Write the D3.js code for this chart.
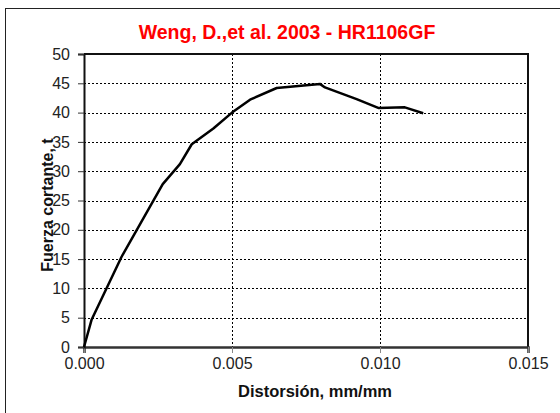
<!DOCTYPE html>
<html>
<head>
<meta charset="utf-8">
<script src="https://cdn.jsdelivr.net/npm/d3@7/dist/d3.min.js"></script>
<style>
  html, body { margin: 0; padding: 0; background: #fff; }
  svg { display: block; }
  text { font-family: "Liberation Sans", Arial, sans-serif; }
</style>
</head>
<body>
<svg id="chart" width="560" height="413"></svg>
<script>
// Data
const drift = [0, 0.00026, 0.00127, 0.00266, 0.00324, 0.00364, 0.00437, 0.0050, 0.00561, 0.00651, 0.00797, 0.00814, 0.00921, 0.00994, 0.01084, 0.01146];
const shear = [0, 4.7, 15.4, 27.8, 31.2, 34.6, 37.3, 40.0, 42.2, 44.2, 44.9, 44.3, 42.3, 40.8, 40.9, 39.9];
const xTicks = [0, 0.005, 0.010, 0.015];
const yTicks = [0, 5, 10, 15, 20, 25, 30, 35, 40, 45, 50];
const titleText = "Weng, D.,et al. 2003 - HR1106GF";
const xLabel = "Distorsión, mm/mm";
const yLabel = "Fuerza cortante, t";

const svg = d3.select("#chart");
const m = { left: 84, top: 54, right: 528, bottom: 347 };

// outer frame
svg.append("rect").attr("x", 5.5).attr("y", 8.5).attr("width", 600).attr("height", 600)
  .attr("fill", "none").attr("stroke", "#222").attr("stroke-width", 1);

const x = d3.scaleLinear().domain([0, 0.015]).range([m.left, m.right]);
const y = d3.scaleLinear().domain([0, 50]).range([m.bottom, m.top]);

// gridlines
svg.append("g").selectAll("line").data(yTicks.filter(d => d > 0 && d < 50)).join("line")
  .attr("x1", m.left).attr("x2", m.right)
  .attr("y1", d => Math.round(y(d)) + 0.5).attr("y2", d => Math.round(y(d)) + 0.5)
  .attr("stroke", "#000").attr("stroke-width", 1).attr("stroke-dasharray", "2,2");
svg.append("g").selectAll("line").data(xTicks.filter(d => d > 0 && d < 0.015)).join("line")
  .attr("y1", m.top).attr("y2", m.bottom)
  .attr("x1", d => Math.round(x(d)) + 0.5).attr("x2", d => Math.round(x(d)) + 0.5)
  .attr("stroke", "#000").attr("stroke-width", 1).attr("stroke-dasharray", "2,2");

// plot border (top/right)
svg.append("path")
  .attr("d", `M${m.left},${m.top}H${m.right}V${m.bottom}`)
  .attr("fill", "none").attr("stroke", "#111").attr("stroke-width", 2);

// axes
const xAxis = d3.axisBottom(x).tickValues(xTicks).tickFormat(d3.format(".3f")).tickSize(6).tickPadding(5);
const gx = svg.append("g").attr("transform", `translate(0,${m.bottom})`).call(xAxis);
gx.select(".domain").attr("stroke", "#333").attr("stroke-width", 2.5);
gx.selectAll(".tick line").attr("stroke", "#888").attr("stroke-width", 1);
gx.selectAll(".tick text").attr("font-size", 16).attr("fill", "#222")
  .attr("font-family", "'Liberation Sans', Arial, sans-serif");

const yAxis = d3.axisLeft(y).tickValues(yTicks).tickSize(6).tickPadding(8);
const gy = svg.append("g").attr("transform", `translate(${m.left},0)`).call(yAxis);
gy.select(".domain").attr("stroke", "#111").attr("stroke-width", 2);
gy.selectAll(".tick line").attr("stroke", "#333").attr("stroke-width", 1);
gy.selectAll(".tick text").attr("font-size", 16).attr("fill", "#222")
  .attr("font-family", "'Liberation Sans', Arial, sans-serif");

// data line
const pts = drift.map((d, i) => [d, shear[i]]);
svg.append("path").datum(pts)
  .attr("d", d3.line().x(d => x(d[0])).y(d => y(d[1])))
  .attr("fill", "none").attr("stroke", "#000").attr("stroke-width", 2.5)
  .attr("stroke-linejoin", "round");

// titles
svg.append("text").attr("x", 287).attr("y", 39).attr("text-anchor", "middle")
  .attr("font-size", 19.5).attr("font-weight", "bold").attr("fill", "#ff0000").text(titleText);
svg.append("text").attr("x", 315).attr("y", 397).attr("text-anchor", "middle")
  .attr("font-size", 16.5).attr("font-weight", "bold").attr("fill", "#111").text(xLabel);
svg.append("text").attr("transform", "translate(53,205) rotate(-90)").attr("text-anchor", "middle")
  .attr("font-size", 16).attr("font-weight", "bold").attr("fill", "#111").text(yLabel);
</script>
</body>
</html>
